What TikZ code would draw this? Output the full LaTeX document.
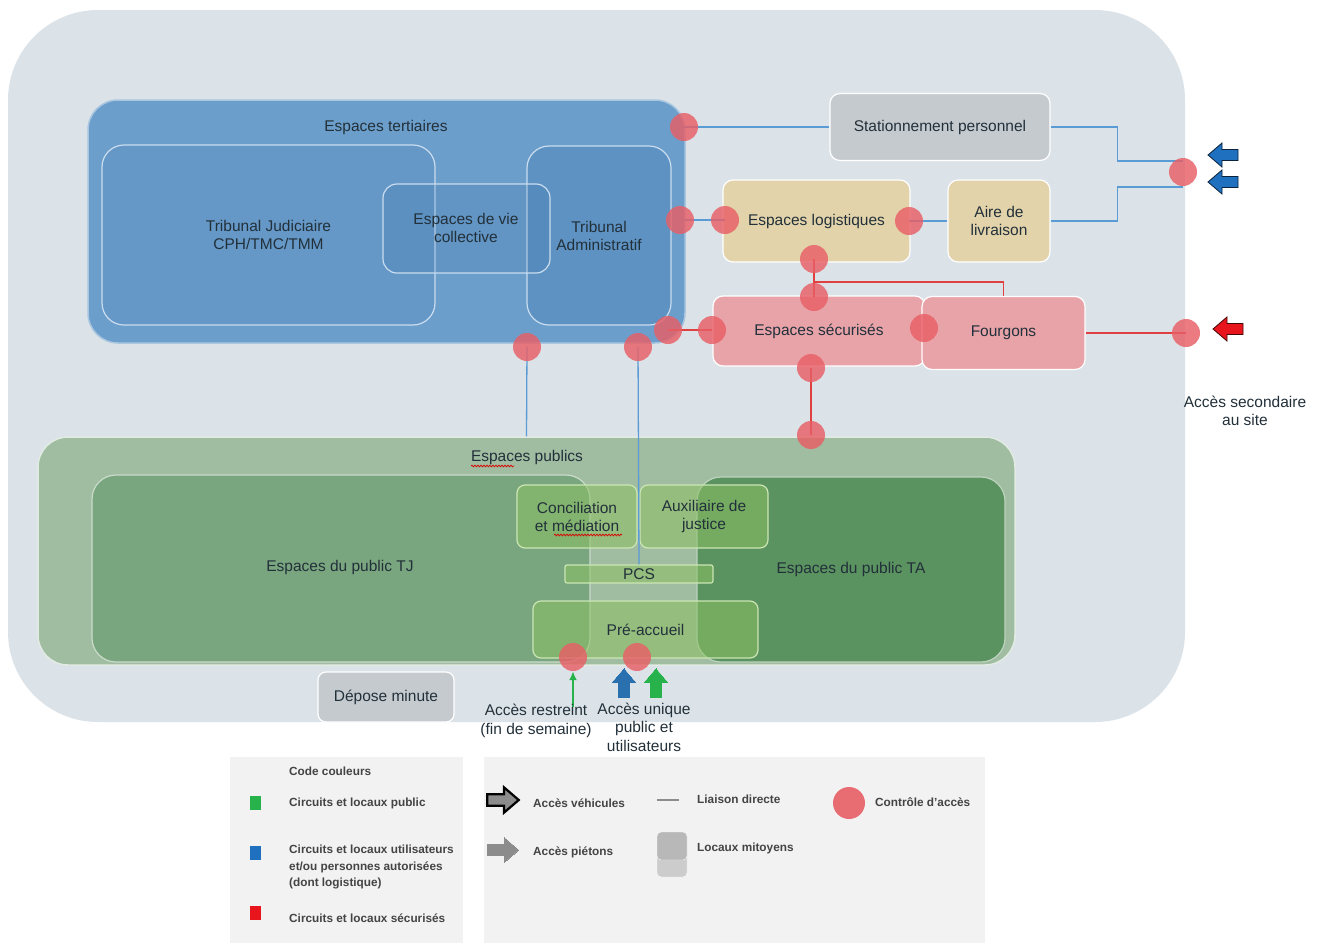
\documentclass[tikz,border=0pt]{standalone}
\usepackage{fontspec}
\setmainfont{Liberation Sans}
\usetikzlibrary{calc,arrows.meta,decorations.pathmorphing}
\definecolor{bgc}{HTML}{DCE3E8}
\definecolor{tertc}{HTML}{6C9ECB}
\definecolor{tertb}{HTML}{A9C6E0}
\definecolor{inblue}{HTML}{2F6AA5}
\definecolor{inbord}{HTML}{C9DDEF}
\definecolor{statc}{HTML}{C5CACF}
\definecolor{logc}{HTML}{E3D3AA}
\definecolor{secc}{HTML}{E8A3A9}
\definecolor{ctrlc}{HTML}{E85F66}
\definecolor{blc}{HTML}{5B9BD5}
\definecolor{rlc}{HTML}{E0403F}
\definecolor{pubc}{HTML}{A0BDA1}
\definecolor{ptjc}{HTML}{7AA67F}
\definecolor{ptac}{HTML}{5A9260}
\definecolor{lgc}{HTML}{8CC063}
\definecolor{lgb}{HTML}{CBE6B4}
\definecolor{txtc}{HTML}{22303A}
\definecolor{legbg}{HTML}{F2F2F2}
\definecolor{legtx}{HTML}{444444}
\definecolor{arrb}{HTML}{2070C0}
\definecolor{arrr}{HTML}{E8161C}
\definecolor{arrg}{HTML}{27B24B}
\definecolor{arrbb}{HTML}{2A6FAE}
\tikzset{
  lbl/.style={align=center, text=txtc, font=\fontsize{15.5}{18.5}\selectfont, inner sep=0pt},
  tertbox/.style={draw=tertb, fill=tertc, line width=1.5pt, rounded corners=30pt},
  inbox/.style={draw=inbord, line width=1.2pt, fill=inblue, fill opacity=#1, text opacity=1, rounded corners=22pt, align=center, text=txtc, font=\fontsize{15.5}{18}\selectfont},
  plainbox/.style={draw=white, line width=1.2pt, fill=#1, rounded corners=10pt, align=center, text=txtc, font=\fontsize{15.5}{18}\selectfont},
  greenbox/.style={draw=lgb, line width=1.2pt, fill=lgc, fill opacity=0.55, text opacity=1, rounded corners=8pt, align=center, text=txtc, font=\fontsize{15.5}{18}\selectfont},
  ctrl/.style={circle, fill=ctrlc, fill opacity=0.82, minimum size=28pt, inner sep=0pt},
  bline/.style={draw=blc, line width=1.3pt},
  rline/.style={draw=rlc, line width=1.5pt},
  legtxt/.style={anchor=west, align=left, text=legtx, font=\bfseries\fontsize{11.8}{16.5}\selectfont, inner sep=0pt},
  pics/blockarrow/.style args={#1/#2/#3}{code={
    \path[draw=#1, fill=#2, line width=#3, line join=miter] (-15,-5.5) -- (1,-5.5) -- (1,-12) -- (15,0) -- (1,12) -- (1,5.5) -- (-15,5.5) -- cycle;}},
  squig/.style={draw=red!85!black, line width=0.7pt, decorate, decoration={snake, amplitude=0.9pt, segment length=3pt}}
}
\begin{document}
\begin{tikzpicture}[x=1pt,y=-1pt]
\useasboundingbox (0,0) rectangle (1325,943);
\fill[white] (0,0) rectangle (1325,943);
% background
\path[fill=bgc, rounded corners=90pt] (8,10) rectangle (1185,722);

% tertiary spaces
\node[tertbox, minimum width=597pt, minimum height=243pt] (tert) at (386.5,221.5) {};
\node[lbl] (terttitle) at (386,127) {Espaces tertiaires};
\node[inbox=0.10, minimum width=333pt, minimum height=180pt] (tj) at (268.5,235) {Tribunal Judiciaire\\CPH/TMC/TMM};
\node[inbox=0.22, minimum width=144pt, minimum height=179pt] (ta) at (599,235.5) {Tribunal\\Administratif};
\node[inbox=0.16, minimum width=167pt, minimum height=89pt, rounded corners=14pt] (evc) at (466.5,228.5) {};
\node[lbl] (evct) at (466,228) {Espaces de vie\\collective};

% right boxes
\node[plainbox=statc, minimum width=220pt, minimum height=67pt] (stat) at (940,127) {Stationnement personnel};
\node[plainbox=logc, minimum width=187pt, minimum height=82pt] (logi) at (816.5,221) {Espaces logistiques};
\node[plainbox=logc, minimum width=102pt, minimum height=82pt] (aire) at (999,221) {Aire de\\livraison};
\node[plainbox=secc, minimum width=212pt, minimum height=70pt] (secu) at (819,331) {Espaces sécurisés};
\node[plainbox=secc, minimum width=163pt, minimum height=73pt] (fourg) at (1003.5,333) {Fourgons};

% public spaces
\node[draw=white!70!pubc, line width=1.5pt, fill=pubc, rounded corners=30pt, minimum width=977pt, minimum height=228pt] (pub) at (526.5,551) {};
\node[lbl] (pubt) at (527,457) {Espaces publics};
\draw[squig] (471,466) -- (514,466);
\node[draw=white!60!ptjc, line width=1.2pt, fill=ptjc, rounded corners=24pt, minimum width=498pt, minimum height=187pt] (ptj) at (341,568.5) {};
\node[lbl] (ptjt) at (340,567) {Espaces du public TJ};
\node[draw=white!60!ptac, line width=1.2pt, fill=ptac, rounded corners=24pt, minimum width=308pt, minimum height=185pt] (pta) at (851,569.5) {};
\node[lbl] (ptat) at (851,569) {Espaces du public TA};
\node[greenbox, minimum width=120pt, minimum height=63pt] (conc) at (577,516.5) {Conciliation\\et médiation};
\draw[squig] (554,535) -- (622,535);
\node[greenbox, minimum width=128pt, minimum height=63pt] (aux) at (704,516.5) {Auxiliaire de\\justice};
\node[greenbox, minimum width=148pt, minimum height=18pt, rounded corners=2pt, inner sep=0pt] (pcs) at (639,574) {PCS};
\node[greenbox, minimum width=225pt, minimum height=57pt] (pre) at (645.5,629.5) {Pré-accueil};

\node[plainbox=statc, minimum width=136pt, minimum height=50pt, rounded corners=8pt] (depose) at (386,697) {Dépose minute};

% control points
\foreach \n/\x/\y in {c1/684/127, c2/680/220, c3/668/330, c4/527/347, c4b/638/347, c5/725/220, c6/909/221, c8/814/259, c9/814/297, c10/712/330, c11/924/328, c12/811/368, c13/811/435, cR/1183/172, c14/1186/333, c15/573/657, c16/637/657}
  \coordinate (\n) at (\x,\y);

% connectors
\draw[bline] (c1) -- (stat.west);
\draw[bline] (c2) -- (c5);
\draw[bline] (c6) -- (aire.west);
\draw[bline] (stat.east) -- ++(67,0) |- ($(cR)+(0,-11)$);
\draw[bline] (aire.east) -- ++(67,0) |- ($(cR)+(0,15)$);
\draw[bline] (c4) -- (pub.north);
\draw[bline] (c4b) -- (pcs.north);
\draw[rline] (c3) -- (c10);
\draw[rline] (c8) -- (c9);
\coordinate (rj) at (814,282);
\draw[rline] (rj) -| (fourg.north);
\draw[rline] (c12) -- (c13);
\draw[rline] (fourg.east) -- (c14);

\foreach \n in {c1,c2,c3,c4,c4b,c5,c6,c8,c9,c10,c11,c12,c13,cR,c14,c15,c16}
  \node[ctrl] (\n n) at (\n) {};

% access arrows
\path (1223,155) pic[rotate=180] {blockarrow={black!70!arrb/arrb/0.8pt}};
\path (1223,182) pic[rotate=180] {blockarrow={black!70!arrb/arrb/0.8pt}};
\path (1228,329) pic[rotate=180] {blockarrow={black!70!arrr/arrr/0.8pt}};
\path (624,683) pic[rotate=90, scale=0.95] {blockarrow={arrbb/arrbb/0pt}};
\path (656,683) pic[rotate=90, scale=0.95] {blockarrow={arrg/arrg/0pt}};
\coordinate (ga) at (573,707);
\draw[draw=arrg, line width=2.4pt, -{Latex[length=9pt,width=8pt]}] (ga) -- (c15n.south);

\node[lbl] (l1) at (536,721) {Accès restreint\\(fin de semaine)};
\node[lbl] (l2) at (644,727) {Accès unique\\public et\\utilisateurs};
\node[lbl] (l3) at (1245,411) {Accès secondaire\\au site};

% legend
\fill[legbg] (230,757) rectangle (463,943);
\fill[legbg] (484,757) rectangle (985,943);
\node[legtxt] (lg0) at (289,771) {Code couleurs};
\fill[arrg] (250,796) rectangle (261,810);
\node[legtxt] (lg1) at (289,803) {Circuits et locaux public};
\fill[arrb] (250,846) rectangle (261,860);
\node[legtxt, anchor=north west] (lg2) at (289,845) {Circuits et locaux utilisateurs\\et/ou personnes autorisées\\(dont logistique)};
\fill[arrr] (250,906) rectangle (261,920);
\node[legtxt] (lg3) at (289,918) {Circuits et locaux sécurisés};

\path (503,800) pic[scale=1.05] {blockarrow={black/black!45/2.2pt}};
\node[legtxt] (lv) at (533,803) {Accès véhicules};
\path (503,850) pic[scale=1.05] {blockarrow={black!45/black!45/0pt}};
\node[legtxt] (lp) at (533,852) {Accès piétons};
\coordinate (ld1) at (657,800);
\coordinate (ld2) at (679,800);
\draw[draw=black!45, line width=1.2pt] (ld1) -- (ld2);
\node[legtxt] (ldt) at (697,799) {Liaison directe};
\node[draw=white, fill=black!20, rounded corners=4pt, minimum width=30pt, minimum height=26pt] (lm2) at (672,864) {};
\node[draw=white, fill=black!28, rounded corners=4pt, minimum width=30pt, minimum height=28pt] (lm1) at (672,846) {};
\node[legtxt] (lmt) at (697,848) {Locaux mitoyens};
\node[circle, fill=ctrlc, fill opacity=0.9, minimum size=32pt, inner sep=0pt] (lc) at (849,803) {};
\node[legtxt] (lct) at (875,802) {Contrôle d'accès};
\end{tikzpicture}
\end{document}
